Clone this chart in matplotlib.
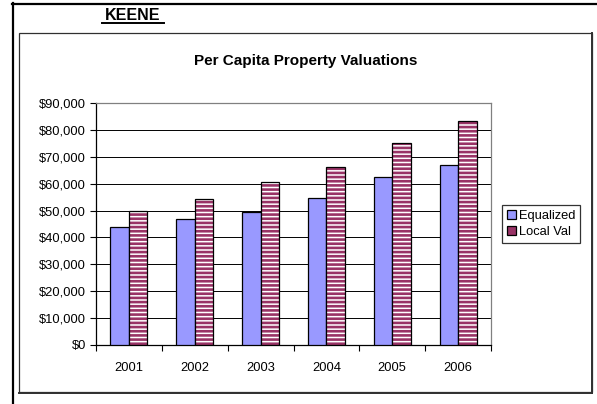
import matplotlib
matplotlib.use("Agg")
import matplotlib.pyplot as plt
import numpy as np
from matplotlib.lines import Line2D
from matplotlib.patches import Patch, Rectangle
from matplotlib.ticker import FuncFormatter, MultipleLocator

plt.rcParams["font.family"] = ["Liberation Sans", "DejaVu Sans"]
plt.rcParams["hatch.linewidth"] = 1.9

# Chart data
years = ["2001", "2002", "2003", "2004", "2005", "2006"]
equalized = [44000, 46700, 49600, 54800, 62300, 66900]
local_val = [49900, 54200, 60500, 66200, 75000, 83300]

EQ_COLOR = "#9999FF"
LV_COLOR = "#993366"

W, H = 597, 404
fig = plt.figure(figsize=(W / 100, H / 100), dpi=100)


def fx(px):
    return px / W


def fy(py):
    return 1 - py / H


# outer frame lines (sheet borders)
fig.add_artist(Line2D([fx(12), fx(597)], [fy(3.5), fy(3.5)], color="black", lw=1.6,
                      transform=fig.transFigure))
fig.add_artist(Line2D([fx(12.5), fx(12.5)], [fy(3), fy(404)], color="black", lw=1.6,
                      transform=fig.transFigure))

# chart area box
fig.add_artist(Rectangle((fx(18.5), fy(392)), fx(591.5) - fx(18.5), fy(33) - fy(392),
                         fill=False, edgecolor="#303030", lw=0.9,
                         transform=fig.transFigure))
fig.add_artist(Line2D([fx(592), fx(592)], [fy(33), fy(393)], color="#303030", lw=1.4,
                      transform=fig.transFigure))
fig.add_artist(Line2D([fx(18.5), fx(592)], [fy(392.5), fy(392.5)], color="#303030", lw=1.4,
                      transform=fig.transFigure))

# sheet heading
fig.text(fx(133), fy(15), "KEENE", ha="center", va="center", fontsize=11.5,
         fontweight="bold")
fig.add_artist(Line2D([fx(102), fx(164)], [fy(23), fy(23)], color="black", lw=1.4,
                      transform=fig.transFigure))

fig.text(fx(306), fy(61), "Per Capita Property Valuations", ha="center", va="center",
         fontsize=11, fontweight="bold")

ax = fig.add_axes([fx(96), fy(345), fx(491) - fx(96), fy(103) - fy(345)])

x = np.arange(len(years))
bw = 0.28
ax.bar(x - bw / 2, equalized, bw, color=EQ_COLOR, edgecolor="black", linewidth=0.9,
       zorder=3)
ax.bar(x + bw / 2, local_val, bw, color="white", edgecolor=LV_COLOR, hatch="----",
       linewidth=0, zorder=3)
ax.bar(x + bw / 2, local_val, bw, color="none", edgecolor="black", linewidth=0.9,
       zorder=4)

ax.set_ylim(0, 90000)
ax.set_xlim(-0.5, len(years) - 0.5)
ax.yaxis.set_major_locator(MultipleLocator(10000))
ax.yaxis.set_major_formatter(FuncFormatter(lambda v, p: f"${v:,.0f}"))
ax.grid(axis="y", color="black", linewidth=0.7, zorder=0)

ax.set_xticks(np.arange(-0.5, len(years), 1.0))
ax.set_xticklabels([])
ax.set_xticks(x, minor=True)
ax.set_xticklabels(years, minor=True)
ax.tick_params(axis="x", which="major", length=4, width=0.8, direction="out")
ax.tick_params(axis="x", which="minor", length=0, pad=12, labelsize=9.3)
ax.tick_params(axis="y", length=4, width=0.8, direction="out", pad=3, labelsize=9.3)

for side in ["left", "bottom"]:
    ax.spines[side].set_color("black")
    ax.spines[side].set_linewidth(0.9)
for side in ["top", "right"]:
    ax.spines[side].set_color("#808080")
    ax.spines[side].set_linewidth(0.9)

eq_handle = Patch(facecolor=EQ_COLOR, edgecolor="black", linewidth=0.9)
lv_handle = (Patch(facecolor="white", edgecolor=LV_COLOR, hatch="--------", linewidth=0),
             Patch(facecolor="none", edgecolor="black", linewidth=0.9))
leg = fig.legend([eq_handle, lv_handle], ["Equalized", "Local Val"],
                 loc="center left", bbox_to_anchor=(fx(502), fy(224)),
                 fontsize=9.3, frameon=True, fancybox=False, edgecolor="black",
                 handlelength=0.7, handleheight=0.7, handletextpad=0.3,
                 borderpad=0.35, labelspacing=0.35, borderaxespad=0)
leg.get_frame().set_linewidth(0.9)

fig.savefig("out.png", dpi=100)
